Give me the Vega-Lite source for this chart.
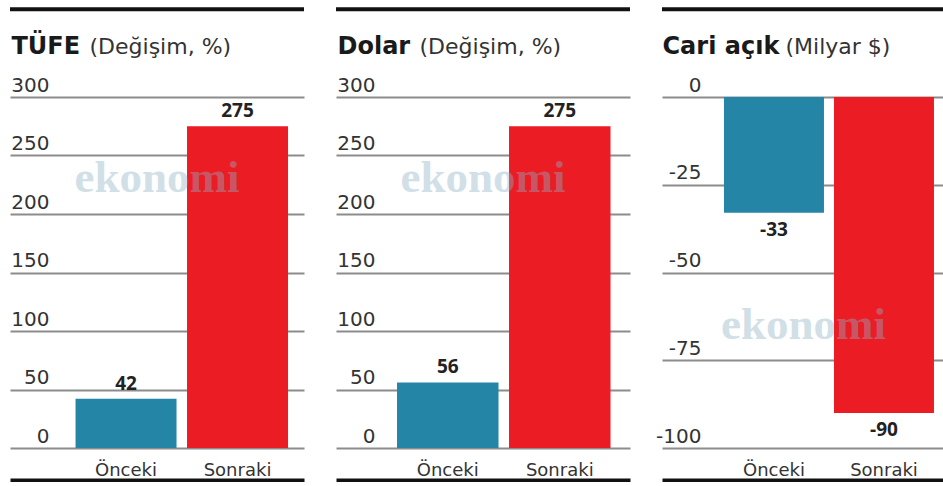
{
  "$schema": "https://vega.github.io/schema/vega-lite/v6.json",
  "padding": {"left": 8, "top": 7, "right": 0, "bottom": 0},
  "bounds": "flush",
  "spacing": 32,
  "background": "white",
  "datasets": {
    "d": [
      {"panel": "tufe", "kategori": "Önceki", "deger": 42},
      {"panel": "tufe", "kategori": "Sonraki", "deger": 275},
      {"panel": "dolar", "kategori": "Önceki", "deger": 56},
      {"panel": "dolar", "kategori": "Sonraki", "deger": 275},
      {"panel": "cari", "kategori": "Önceki", "deger": -33},
      {"panel": "cari", "kategori": "Sonraki", "deger": -90}
    ]
  },
  "resolve": {"scale": {"x": "independent", "y": "independent"}, "axis": {"x": "independent", "y": "independent"}},
  "hconcat": [
    {
      "width": 294, "height": 351,
      "data": {"name": "d"},
      "transform": [{"filter": "datum.panel === 'tufe'"}, {"calculate": "'' + datum.deger", "as": "etiket"}],
      "layer": [
        {
          "data": {"values": [{}]},
          "mark": {"type": "rule", "color": "#111111", "strokeWidth": 4},
          "encoding": {"y": {"datum": 375, "type": "quantitative", "scale": {"domain": [0, 300], "nice": false},
                  "axis": {"values": [0, 50, 100, 150, 200, 250, 300], "title": "TÜFE", "titleX": 1, "titleY": -44}}}
        },
        {
          "mark": {"type": "bar"},
          "encoding": {
            "x": {"field": "kategori", "type": "nominal", "sort": ["Önceki", "Sonraki"],
                  "scale": {"paddingInner": 0.0942, "paddingOuter": 0.3655, "align": 0.804},
                  "axis": {"title": "(Değişim, %)", "titleX": 79, "titleY": -429}},
            "y": {"field": "deger", "type": "quantitative", "scale": {"domain": [0, 300], "nice": false},
                  "axis": {"values": [0, 50, 100, 150, 200, 250, 300], "title": "TÜFE", "titleX": 1, "titleY": -44}},
            "color": {"field": "kategori", "type": "nominal", "scale": {"domain": ["Önceki", "Sonraki"], "range": ["#2585a7", "#ec1c24"]}, "legend": null}
          }
        },
        {
          "mark": {"type": "text", "font": "Open Sans", "fontWeight": "bold", "fontSize": 19, "color": "#222222", "baseline": "alphabetic", "dy": -9},
          "encoding": {
            "x": {"field": "kategori", "type": "nominal", "sort": ["Önceki", "Sonraki"],
                  "axis": {"title": "(Değişim, %)", "titleX": 79, "titleY": -429}},
            "y": {"field": "deger", "type": "quantitative", "scale": {"domain": [0, 300], "nice": false},
                  "axis": {"values": [0, 50, 100, 150, 200, 250, 300], "title": "TÜFE", "titleX": 1, "titleY": -44}},
            "text": {"field": "etiket", "type": "nominal"}
          }
        },
        {
          "data": {"values": [{}]},
          "mark": {"type": "text", "text": "ekonomi", "font": "Liberation Serif", "fontWeight": "bold", "fontSize": 45, "color": "#8fb0c4", "opacity": 0.4, "baseline": "middle"},
          "encoding": {"y": {"datum": 231, "type": "quantitative", "scale": {"domain": [0, 300], "nice": false},
                  "axis": {"values": [0, 50, 100, 150, 200, 250, 300], "title": "TÜFE", "titleX": 1, "titleY": -44}}}
        }
      ]
    },
    {
      "width": 294, "height": 351,
      "data": {"name": "d"},
      "transform": [{"filter": "datum.panel === 'dolar'"}, {"calculate": "'' + datum.deger", "as": "etiket"}],
      "layer": [
        {
          "data": {"values": [{}]},
          "mark": {"type": "rule", "color": "#111111", "strokeWidth": 4},
          "encoding": {"y": {"datum": 375, "type": "quantitative", "scale": {"domain": [0, 300], "nice": false},
                  "axis": {"values": [0, 50, 100, 150, 200, 250, 300], "title": "Dolar", "titleX": 1, "titleY": -44}}}
        },
        {
          "mark": {"type": "bar"},
          "encoding": {
            "x": {"field": "kategori", "type": "nominal", "sort": ["Önceki", "Sonraki"],
                  "scale": {"paddingInner": 0.09375, "paddingOuter": 0.3594, "align": 0.758},
                  "axis": {"title": "(Değişim, %)", "titleX": 83, "titleY": -429}},
            "y": {"field": "deger", "type": "quantitative", "scale": {"domain": [0, 300], "nice": false},
                  "axis": {"values": [0, 50, 100, 150, 200, 250, 300], "title": "Dolar", "titleX": 1, "titleY": -44}},
            "color": {"field": "kategori", "type": "nominal", "scale": {"domain": ["Önceki", "Sonraki"], "range": ["#2585a7", "#ec1c24"]}, "legend": null}
          }
        },
        {
          "mark": {"type": "text", "font": "Open Sans", "fontWeight": "bold", "fontSize": 19, "color": "#222222", "baseline": "alphabetic", "dy": -9},
          "encoding": {
            "x": {"field": "kategori", "type": "nominal", "sort": ["Önceki", "Sonraki"],
                  "axis": {"title": "(Değişim, %)", "titleX": 83, "titleY": -429}},
            "y": {"field": "deger", "type": "quantitative", "scale": {"domain": [0, 300], "nice": false},
                  "axis": {"values": [0, 50, 100, 150, 200, 250, 300], "title": "Dolar", "titleX": 1, "titleY": -44}},
            "text": {"field": "etiket", "type": "nominal"}
          }
        },
        {
          "data": {"values": [{}]},
          "mark": {"type": "text", "text": "ekonomi", "font": "Liberation Serif", "fontWeight": "bold", "fontSize": 45, "color": "#8fb0c4", "opacity": 0.4, "baseline": "middle"},
          "encoding": {"y": {"datum": 231, "type": "quantitative", "scale": {"domain": [0, 300], "nice": false},
                  "axis": {"values": [0, 50, 100, 150, 200, 250, 300], "title": "Dolar", "titleX": 1, "titleY": -44}}}
        }
      ]
    },
    {
      "width": 283, "height": 351,
      "data": {"name": "d"},
      "transform": [{"filter": "datum.panel === 'cari'"}, {"calculate": "'' + datum.deger", "as": "etiket"}],
      "layer": [
        {
          "data": {"values": [{}]},
          "mark": {"type": "rule", "color": "#111111", "strokeWidth": 4},
          "encoding": {"y": {"datum": 25, "type": "quantitative", "scale": {"domain": [-100, 0], "nice": false},
                  "axis": {"values": [-100, -75, -50, -25, 0], "labelExpr": "'' + datum.value", "title": "Cari açık", "titleX": 0, "titleY": -44}}}
        },
        {
          "mark": {"type": "bar"},
          "encoding": {
            "x": {"field": "kategori", "type": "nominal", "sort": ["Önceki", "Sonraki"],
                  "scale": {"paddingInner": 0.0909, "paddingOuter": 0.3318, "align": 0.849},
                  "axis": {"title": "(Milyar $)", "titleX": 123, "titleY": -429}},
            "y": {"field": "deger", "type": "quantitative", "scale": {"domain": [-100, 0], "nice": false},
                  "axis": {"values": [-100, -75, -50, -25, 0], "labelExpr": "'' + datum.value", "title": "Cari açık", "titleX": 0, "titleY": -44}},
            "color": {"field": "kategori", "type": "nominal", "scale": {"domain": ["Önceki", "Sonraki"], "range": ["#2585a7", "#ec1c24"]}, "legend": null}
          }
        },
        {
          "mark": {"type": "text", "font": "Open Sans", "fontWeight": "bold", "fontSize": 19, "color": "#222222", "baseline": "alphabetic", "dy": 23},
          "encoding": {
            "x": {"field": "kategori", "type": "nominal", "sort": ["Önceki", "Sonraki"],
                  "axis": {"title": "(Milyar $)", "titleX": 123, "titleY": -429}},
            "y": {"field": "deger", "type": "quantitative", "scale": {"domain": [-100, 0], "nice": false},
                  "axis": {"values": [-100, -75, -50, -25, 0], "labelExpr": "'' + datum.value", "title": "Cari açık", "titleX": 0, "titleY": -44}},
            "text": {"field": "etiket", "type": "nominal"}
          }
        },
        {
          "data": {"values": [{}]},
          "mark": {"type": "text", "text": "ekonomi", "font": "Liberation Serif", "fontWeight": "bold", "fontSize": 45, "color": "#8fb0c4", "opacity": 0.4, "baseline": "middle"},
          "encoding": {"y": {"datum": -65, "type": "quantitative", "scale": {"domain": [-100, 0], "nice": false},
                  "axis": {"values": [-100, -75, -50, -25, 0], "labelExpr": "'' + datum.value", "title": "Cari açık", "titleX": 0, "titleY": -44}}}
        }
      ]
    }
  ],
  "config": {
    "view": {"stroke": null},
    "axisY": {
      "grid": true, "gridColor": "#8c8c8c", "gridWidth": 2, "domain": false, "ticks": false, "tickSize": 0,
      "labelPadding": -39, "labelAlign": "right", "labelBaseline": "alphabetic", "labelOffset": -6, "labelFlush": false,
      "labelFont": "DejaVu Sans", "labelFontSize": 20, "labelColor": "#333333",
      "titleAngle": 0, "titleAlign": "left", "titleBaseline": "alphabetic",
      "titleFont": "DejaVu Sans", "titleFontSize": 24, "titleFontWeight": "bold", "titleColor": "#1a1a1a"
    },
    "axisX": {
      "offset": 34, "domain": true, "domainColor": "#111111", "domainWidth": 8, "ticks": false, "tickSize": 0, "grid": false,
      "labelPadding": -7, "labelBaseline": "alphabetic", "labelAngle": 0,
      "labelFont": "DejaVu Sans", "labelFontSize": 18, "labelColor": "#333333",
      "titleAngle": 0, "titleAlign": "left", "titleBaseline": "alphabetic",
      "titleFont": "DejaVu Sans", "titleFontSize": 22, "titleFontWeight": "normal", "titleColor": "#333333"
    }
  }
}
